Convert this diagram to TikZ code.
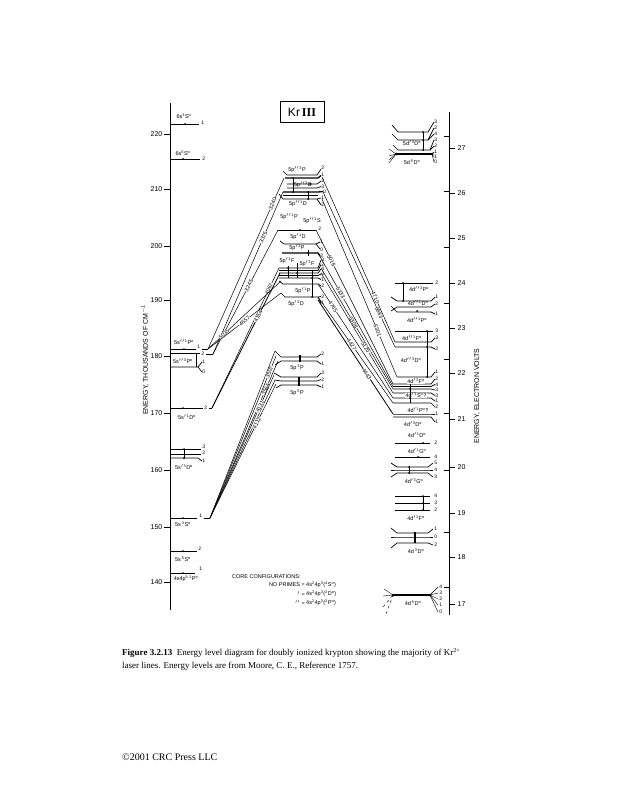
\documentclass[tikz,border=0pt]{standalone}
\usepackage{fontspec}
\setmainfont{Liberation Serif}
\newfontfamily\dg{Liberation Sans}
\newcommand\myup[1]{\textsuperscript{#1}}
\newcommand\myo{\textsuperscript{o}}
\begin{document}
\begin{tikzpicture}[x=1pt,y=-1pt,
  lev/.style={line width=0.7pt},
  tlev/.style={line width=1.3pt},
  fl/.style={line width=0.4pt},
  tr/.style={line width=0.5pt},
  jl/.style={font=\dg\fontsize{5}{5}\selectfont, inner sep=0.2pt, anchor=west},
  ll/.style={font=\dg\fontsize{5.5}{6}\selectfont, inner sep=0.3pt},
  wl/.style={font=\dg\fontsize{5.5}{5.5}\selectfont, inner sep=0.2pt, sloped, fill=white},
  ax/.style={font=\dg\fontsize{7}{7}\selectfont, inner sep=0.5pt},
  cf/.style={font=\dg\fontsize{5.5}{6}\selectfont, inner sep=0},
  dot/.style={circle, fill, inner sep=0pt, minimum size=2pt}]
\fill[white] (0,0) rectangle (617,800);
\useasboundingbox (0,0) rectangle (617,800);

% ---------- left axis ----------
\draw[line width=0.8pt] (170,103) -- (170,610);
\foreach \v/\y in {220/134,210/189,200/246,190/300,180/356,170/413,160/470,150/527,140/582}
  {\draw (164,\y) -- (170,\y); \node[ax, anchor=east] at (163,\y) {\v};}
\node[ax, rotate=90] (laxis) at (145,360) {ENERGY, THOUSANDS OF CM\myup{$-$1}};

% ---------- right axis ----------
\draw[line width=0.8pt] (449,112) -- (449,615);
\foreach \v/\y in {27/148,26/193,25/238,24/283,23/328,22/373,21/419,20/467,19/513,18/557,17/604}
  {\draw (449,\y) -- (455,\y); \node[ax, anchor=west] at (457,\y) {\v};}
\foreach \y in {136,191,247,303,359,413,470,532,587}
  {\draw (444,\y) -- (449,\y);}
\node[ax, rotate=90] (raxis) at (477,396) {ENERGY, ELECTRON VOLTS};

% ---------- title ----------
\node[draw, line width=0.6pt, minimum width=44pt, minimum height=21pt,
  font=\dg\fontsize{12}{12}\selectfont] (title) at (302,112) {Kr\,{\rmfamily\bfseries III}};

% ---------- left column ----------
\draw[lev] (170,124) -- (199,124); \node[dot] at (185,124) {}; \node[jl] at (201,123) {1};
\node[ll] at (184,116) {6s\myup{3}S\myo};
\draw[lev] (170,159) -- (200,159); \node[dot] at (183,159) {}; \node[jl] at (202,159) {2};
\node[ll] at (183,153) {6s\myup{5}S\myo};

\draw[lev] (170,349) -- (196,349); \node[dot] at (184,349) {}; \node[jl] at (197,347) {1};
\coordinate (sP1) at (208,349); \draw[tr] (202,349) -- (sP1);
\node[ll] at (184,342) {5s$''$\myup{1}P\myo};
\draw[lev] (170,353) -- (200,353); \node[jl] at (201,354) {2};
\coordinate (sP2) at (213,354); \draw[tr] (206,354) -- (sP2);
\draw[lev] (170,367) -- (198,367) -- (202,362); \draw[lev] (198,367) -- (202,372);
\node[jl] at (202,362) {1}; \node[jl] at (202,372) {0};
\draw[lev] (196,353) -- (196,367);
\node[ll] at (183,361) {5s$''$\myup{3}P\myo};

\draw[lev] (170,408) -- (203,408); \node[dot] at (183,408) {}; \node[jl] at (204,408) {2};
\coordinate (sD1) at (212,408); \draw[tr] (209,408) -- (sD1);
\node[ll] at (187,417) {5s$'$\myup{1}D\myo};

\draw[lev] (170,449) -- (201,449); \node[jl] at (202,447) {3};
\draw[lev] (170,454) -- (201,454); \node[jl] at (202,453) {2};
\draw[lev] (170,458) -- (198,458) -- (202,461); \node[jl] at (202,461) {1};
\draw (184,449) -- (184,458); \node[dot] at (184,449) {}; \node[dot] at (184,458) {};
\node[ll] at (184,467) {5s$'$\myup{3}D\myo};

\draw[lev] (170,518) -- (197,518); \node[dot] at (183,518) {}; \node[jl] at (199,516) {1};
\coordinate (sS3) at (210,518); \draw[tr] (204,518) -- (sS3);
\node[ll] at (183,524) {5s\,\myup{3}S\myo};
\draw[lev] (170,551) -- (197,551); \node[dot] at (183,551) {}; \node[jl] at (198,549) {2};
\node[ll] at (183,559) {5s\,\myup{5}S\myo};
\draw[lev] (170,573) -- (195,573); \node[dot] at (183,573) {}; \node[jl] at (199,569) {1};
\node[ll] at (186,579) {4s4p\myup{5}\,\myup{1}P\myo};

% ---------- centre: 5p'' ----------
\draw[lev] (283,171) -- (287,175) -- (317,175) -- (321,169); \node[jl] at (321,168) {2};
\draw[tlev] (285,178) -- (318,178) -- (321,175.5); \node[jl] at (321,174.5) {1};
\draw[lev] (287,184) -- (317,184) -- (321,181); \node[jl] at (321,181) {2};
\draw[lev] (287,188) -- (317,188) -- (321,186.5); \node[jl] at (321,186.5) {3};
\draw[tlev] (283,192) -- (318,192) -- (323,191.5); \node[jl] at (323,191.5) {0};
\draw[lev] (283,195) -- (318,195);
\draw[lev] (279,194) -- (283,199) -- (317,199) -- (321,198); \node[jl] at (321,198) {1};
\draw[lev] (317,199) -- (321,205); \node[jl] at (321,205) {2};
\draw (293,178) -- (293,192); \node[dot] at (293,178) {}; \node[dot] at (293,192) {};
\draw (308,192) -- (308,199); \node[dot] at (308,192) {}; \node[dot] at (308,199) {};
\node[dot] at (310,184) {};
\node[ll] at (297,170) {5p$''$\myup{3}P};
\node[ll] at (303,184.5) {5p$''$\myup{3}D};
\node[ll] at (298,204) {5p$''$\myup{1}D};
\node[ll] at (289,217) {5p$''$\myup{1}P};
\node[ll] at (312,221) {5p$''$\myup{1}S};

% ---------- centre: 5p' ----------
\draw[lev] (278,230) -- (316,230); \node[dot] at (300,230) {}; \node[jl] at (318,229) {2};
\node[ll] at (298,237) {5p$'$\myup{1}D};
\draw[lev] (280,241) -- (284,244) -- (316,244) -- (320,242); \node[jl] at (320,242) {1};
\draw[lev] (316,244) -- (320,249); \node[jl] at (320,249.5) {0};
\draw[tlev] (282,253) -- (318,253) -- (320,256); \node[jl] at (320,256) {2};
\draw (308,250) -- (308,256); \node[dot] at (308,253) {};
\node[ll] at (297,247.5) {5p$'$\myup{3}P};
\foreach \y/\j/\jy in {268/3/260,270.5/2/264.5,273/4/269,275.5/3/274,278/1/279.5}
  {\draw[lev] (279,\y) -- (318,\y) -- (321,\jy); \node[jl] at (321,\jy) {\j};}
\draw (288,266) -- (288,278); \draw (297,263) -- (297,278); \draw (312,270) -- (312,284);
\node[dot] at (288,268) {}; \node[dot] at (297,273) {}; \node[dot] at (312,278) {};
\node[ll, fill=white, inner sep=0.5pt] at (287,260.5) {5p$'$\myup{1}F};
\node[ll, fill=white, inner sep=0.5pt] at (307,263.5) {5p$'$\myup{3}F};
\draw[lev] (279,281) -- (283,284) -- (318,284) -- (321,286); \node[jl] at (321,286) {2};
\draw[lev] (281,293) -- (285,297) -- (318,297) -- (321,296.5); \node[jl] at (321,296.5) {2};
\draw[lev] (318,297) -- (321,303); \node[jl] at (321,303) {1};
\draw (312,284) -- (312,297); \node[dot] at (312,297) {};
\node[ll] at (303,291) {5p$'$\myup{1}P};
\node[ll] at (296,303.5) {5p$'$\myup{3}D};

% ---------- centre: 5p ----------
\draw[lev] (275,351) -- (281,357) -- (317,357) -- (321,354); \node[jl] at (321,354) {2};
\draw[lev] (275,365) -- (281,361) -- (317,361) -- (321,364); \node[jl] at (321,364) {1};
\draw[line width=1.4pt] (300,355) -- (300,362);
\node[ll] at (297,367.5) {5p\,\myup{3}P};
\draw[lev] (274,373) -- (281,377) -- (317,377) -- (321,373); \node[jl] at (321,373) {3};
\draw[lev] (275,380) -- (281,381) -- (317,381) -- (321,379.5); \node[jl] at (321,379.5) {2};
\draw[lev] (276,388) -- (281,385) -- (317,385) -- (321,387); \node[jl] at (321,387) {1};
\draw[line width=1.4pt] (299,377) -- (299,386);
\node[ll] at (297,392.5) {5p\,\myup{5}P};

% ---------- right column: 5d ----------
\draw[lev] (392,125) -- (398,132) -- (428,132) -- (434,122); \node[jl] at (434,122) {3};
\draw[lev] (392,134) -- (398,140) -- (428,140) -- (434,128); \node[jl] at (434,128) {2};
\draw[lev] (428,140) -- (434,134); \node[jl] at (434,134) {4};
\draw[lev] (393,145) -- (398,150) -- (430,150) -- (434,140); \node[jl] at (434,140) {3};
\draw[lev] (430,150) -- (434,146); \node[jl] at (434,146) {2};
\draw[line width=1.4pt] (396,154) -- (432,154);
\foreach \jy/\j in {152/1,157/1,162/0} {\draw[fl] (432,154) -- (434,\jy); \node[jl] at (434,\jy) {\j};}
\foreach \ly in {149,156,160,163} {\draw[fl] (389,\ly) -- (396,154);}
\node[dot, minimum size=3pt] at (396,154) {}; \node[dot, minimum size=3pt] at (432,154) {};
\draw (423,132) -- (423,150); \node[dot] at (423,132) {}; \node[dot] at (423,140) {}; \node[dot] at (423,150) {};
\node[dot] at (414,154) {};
\node[ll] at (412,143.5) {5d$'$\myup{3}D\myo};
\node[ll] at (412,162) {5d\,\myup{5}D\myo};

% ---------- right column: 4d'' and 4d' ----------
\draw[lev] (395,283) -- (433,283); \node[jl] at (435,283) {2};
\draw[lev] (391,297) -- (397,301) -- (431,301) -- (435,297); \node[jl] at (435,297) {1};
\draw (403,283) -- (403,301); \node[dot] at (403,283) {}; \node[dot] at (403,301) {};
\node[ll] at (419,289.5) {4d$''$\myup{3}P\myo};
\draw[lev] (391,311) -- (397,307) -- (431,307) -- (435,304); \node[jl] at (435,304) {2};
\node[ll] at (418,303) {4d$''$\myup{1}D\myo};
\draw[lev] (391,306) -- (397,312) -- (431,312) -- (435,314); \node[jl] at (435,314) {1};
\node[dot] at (417,311) {};
\node[ll] at (417,320) {4d$''$\myup{1}P\myo};
\draw[lev] (395,331) -- (433,331); \node[jl] at (435,331) {3};
\draw[lev] (395,342) -- (431,342) -- (435,338); \node[jl] at (435,338) {3};
\node[ll] at (412,338) {4d$''$\myup{1}F\myo};
\draw[lev] (395,347) -- (431,347) -- (435,349); \node[jl] at (435,349) {2};
\draw[lev] (397,377) -- (431,377) -- (435,372); \node[jl] at (435,372) {1};
\draw (427,331) -- (427,377); \node[dot] at (427,331) {}; \node[dot] at (427,347) {}; \node[dot] at (427,377) {};
\node[ll] at (411,360) {4d$''$\myup{3}D\myo};
\foreach \y/\j/\jy in {384/2/379,386.5/4/384.5,389/3/390}
  {\draw[lev] (393,\y) -- (431,\y) -- (435,\jy); \node[jl] at (435,\jy) {\j};}
\node[ll, fill=white, inner sep=0.4pt] at (416,381.5) {4d$'$\myup{3}F\myo};
\foreach \y/\j/\jy in {393/3/395.5,398/1/401}
  {\draw[lev] (393,\y) -- (431,\y) -- (435,\jy); \node[jl] at (435,\jy) {\j};}
\node[ll, fill=white, inner sep=0.4pt] at (416,395.5) {4d$'$\myup{3}S\myo?};
\foreach \y/\j/\jy in {403/2/407,414/1/414}
  {\draw[lev] (393,\y) -- (431,\y) -- (435,\jy); \node[jl] at (435,\jy) {\j};}
\draw[lev] (393,417) -- (431,417) -- (435,422); \node[jl] at (435,422) {1};
\draw (410,384) -- (410,403); \node[dot] at (410,389) {}; \node[dot] at (410,398) {};
\node[ll] at (418,410) {4d$'$\myup{1}P\myo?};
\node[ll] at (413,424) {4d$'$\myup{3}D\myo};

% ---------- right column: lower 4d ----------
\node[ll] at (417,435) {4d$'$\myup{1}D\myo};
\draw[lev] (395,443) -- (430,443); \node[dot] at (423,443) {}; \node[jl] at (434,443) {2};
\node[ll] at (417,451.5) {4d$'$\myup{1}G\myo};
\draw[lev] (395,457) -- (430,457); \node[dot] at (418,457) {}; \node[jl] at (434,457) {4};
\foreach \y/\ly/\j/\jy in {467/463/5/463,470/470/4/470,473/477/3/477}
  {\draw[lev] (391,\ly) -- (397,\y) -- (428,\y) -- (433,\jy); \node[jl] at (434,\jy) {\j};}
\draw (409,467) -- (409,473); \node[dot] at (409,467) {}; \node[dot] at (409,473) {};
\node[ll] at (414,481) {4d$'$\myup{3}G\myo};
\foreach \y/\j in {496/4,503/3,510/2}
  {\draw[lev] (395,\y) -- (430,\y); \node[jl] at (434,\y) {\j};}
\draw (423,496) -- (423,510); \node[dot] at (423,496) {}; \node[dot] at (423,503) {}; \node[dot] at (423,510) {};
\node[ll] at (416,518.5) {4d$'$\myup{3}F\myo};
\foreach \y/\ly/\j/\jy in {533/528/1/529,537/537/0/537,543/548/2/545}
  {\draw[lev] (391,\ly) -- (397,\y) -- (428,\y) -- (433,\jy); \node[jl] at (434,\jy) {\j};}
\draw[line width=1.2pt] (415,532) -- (415,543);
\node[ll] at (416,551.5) {4d\,\myup{3}D\myo};
\draw[line width=1.4pt] (393,595) -- (430,595);
\node[dot, minimum size=3pt] at (393,595) {}; \node[dot, minimum size=3pt] at (430,595) {};
\node[dot] at (415,595) {};
\foreach \jy/\j in {587/4,593/3,599/2,605/1,612/0}
  {\draw[fl] (430,595) -- (438,\jy); \node[jl] at (439,\jy) {\j};}
\draw[fl] (384,589) -- (393,595); \draw[fl] (383,596) -- (393,595);
\draw[fl, dashed] (383,607) -- (393,595); \draw[fl, dashed] (386,614) -- (393,595);
\node[ll] at (413,603.5) {4d\,\myup{5}D\myo};

% ---------- transitions: left side ----------
\coordinate (p3a) at (276,356); \coordinate (p3b) at (278,361);
\coordinate (p5a) at (274,375); \coordinate (p5b) at (276,384);
\coordinate (p3c) at (275,351); \coordinate (p5c) at (275,380);
\draw[tr] (sS3) -- (p3c);
\draw[tr] (sS3) -- (p5c);
\draw[tr] (sS3) -- (p3a) node[wl, pos=0.9] {3507};
\draw[tr] (sS3) -- (p3b) node[wl, pos=0.82] {3564};
\draw[tr] (sS3) -- (p5a) node[wl, pos=0.78] {4131};
\draw[tr] (sS3) -- (p5b) node[wl, pos=0.71] {4112};

\coordinate (pFa) at (279,268); \coordinate (pFb) at (280,273);
\draw[tr] (sD1) -- (pFa) node[wl, pos=0.85] {4067};
\draw[tr, line width=0.8pt] (sD1) -- (pFb) node[wl, pos=0.68] {4154};

\coordinate (pTa) at (284,178); \coordinate (pTb) at (283,192); \coordinate (pD) at (278,230);
\draw[tr] (sP1) -- (pTa) node[wl, pos=0.85] {3240};
\draw[tr] (sP2) -- (pTb) node[wl, pos=0.72] {3375};
\draw[tr] (sP2) -- (pD) node[wl, pos=0.55] {3245};
\coordinate (pPa) at (281,281); \coordinate (pPb) at (281,293);
\draw[tr] (sP1) -- (pPa) node[wl, pos=0.22] {5035};
\draw[tr] (sP1) -- (pPb) node[wl, pos=0.5] {4657};

% ---------- transitions: right side ----------
\coordinate (q1) at (316,230); \coordinate (q2) at (318,253);
\coordinate (q3) at (321,268); \coordinate (q4) at (321,273);
\coordinate (q5) at (318,284); \coordinate (q6) at (318,297); \coordinate (q7) at (318,300);
\coordinate (r1) at (393,384); \coordinate (r2) at (393,386.5); \coordinate (r3) at (393,389);
\coordinate (r4) at (393,393); \coordinate (r5) at (393,398); \coordinate (r6) at (393,403);
\coordinate (r7) at (393,414);
\draw[tr] (q1) -- (r1) node[wl, pos=0.2] {5016};
\draw[tr] (q2) -- (r2) node[wl, pos=0.3] {5333};
\draw[tr] (q3) -- (r3) node[wl, pos=0.45] {5308};
\draw[tr] (q4) -- (r4) node[wl, pos=0.62] {5125};
\draw[tr] (q5) -- (r5) node[wl, pos=0.2] {4765};
\draw[tr] (q6) -- (r6) node[wl, pos=0.45] {4427};
\draw[tr, line width=0.8pt] (q7) -- (r7) node[wl, pos=0.65] {4443};

\coordinate (t1) at (322,177); \coordinate (t2) at (323,192); \coordinate (t3) at (322,199);
\coordinate (u1) at (395,342); \coordinate (u2) at (395,347); \coordinate (u3) at (397,377);
\draw[tr] (t1) -- (u1) node[wl, pos=0.73] {4710};
\draw[tr] (t2) -- (u2) node[wl, pos=0.78] {6883};
\draw[tr] (t3) -- (u3) node[wl, pos=0.74] {5301};

% ---------- core configurations ----------
\node[cf, anchor=west] (cc) at (232,577) {CORE CONFIGURATIONS:};
\node[cf, anchor=east] (np) at (305,585) {NO PRIMES =};
\node[cf, anchor=west] at (306,585) {4s\myup{2}4p\myup{3}(\myup{4}S\myo)};
\node[cf, anchor=east] at (305,594) {$'$ =};
\node[cf, anchor=west] at (306,594) {4s\myup{2}4p\myup{3}(\myup{2}D\myo)};
\node[cf, anchor=east] at (305,603) {$''$ =};
\node[cf, anchor=west] at (306,603) {4s\myup{2}4p\myup{3}(\myup{2}P\myo)};

% ---------- caption ----------
\node[anchor=west, font=\fontsize{9}{11}\selectfont, inner sep=0] (cap1) at (122,653)
  {\textbf{Figure 3.2.13}\ \ Energy level diagram for doubly ionized krypton showing the majority of Kr\myup{2+}};
\node[anchor=west, font=\fontsize{9}{11}\selectfont, inner sep=0] (cap2) at (122,666)
  {laser lines. Energy levels are from Moore, C. E., Reference 1757.};
\node[anchor=west, font=\fontsize{10}{12}\selectfont, inner sep=0] (copy) at (122,757)
  {\textcopyright2001 CRC Press LLC};
\end{tikzpicture}
\end{document}
